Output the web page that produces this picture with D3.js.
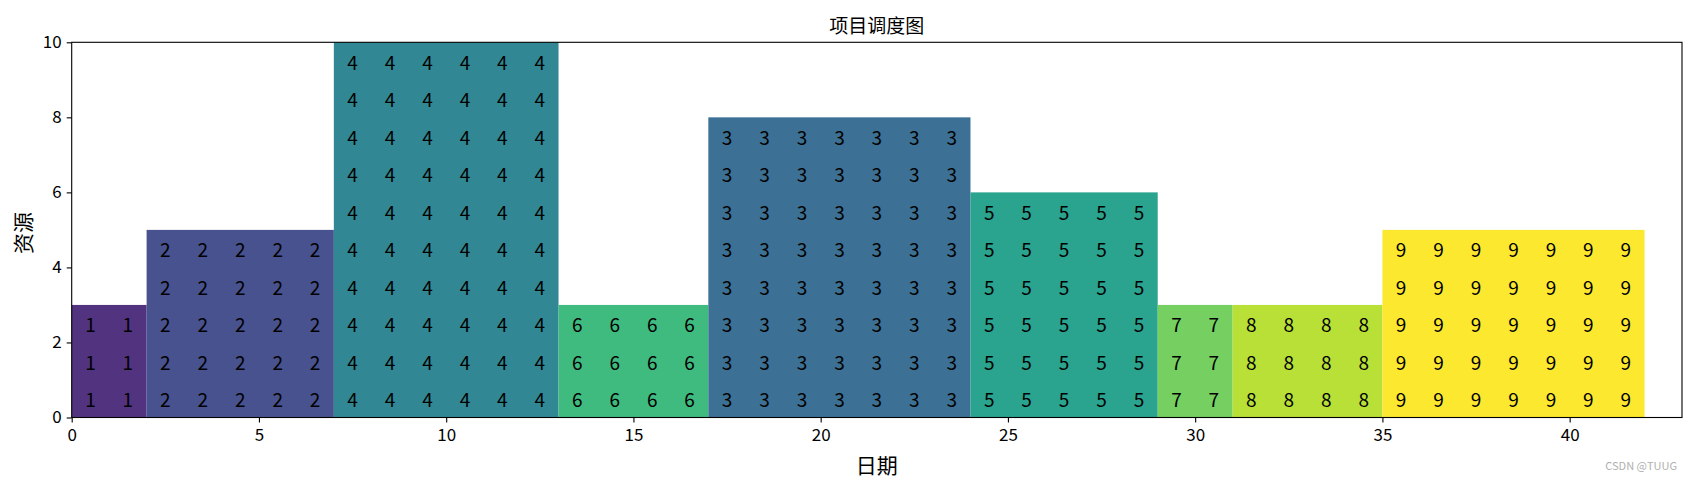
<!DOCTYPE html>
<html>
<head>
<meta charset="utf-8">
<script src="https://cdn.jsdelivr.net/npm/d3@7"></script>
<style>
  html, body { margin: 0; padding: 0; background: #fff; }
  svg { display: block; }
  text { font-family: "Noto Sans CJK SC", "Noto Sans", sans-serif; }
</style>
</head>
<body>
<svg id="chart" width="1701" height="483"></svg>
<script>
// ---- data ----
const tasks     = [1, 2, 4, 6, 3, 5, 7, 8, 9];
const starts    = [0, 2, 7, 13, 17, 24, 29, 31, 35];
const durations = [2, 5, 6, 4, 7, 5, 2, 4, 7];
const resources = [3, 5, 10, 3, 8, 6, 3, 3, 5];
const xTicks    = [0, 5, 10, 15, 20, 25, 30, 35, 40];
const yTicks    = [0, 2, 4, 6, 8, 10];
const xDomain   = [0, 43];
const yDomain   = [0, 10];
const title     = "项目调度图";
const xLabel    = "日期";
const yLabel    = "资源";
const watermark = "CSDN @TUUG";

(function () {
// ---- layout ----
const plotL = 71.7, plotR = 1682, plotT = 42.3, plotB = 417.5;

const svg = d3.select("#chart");
const x = d3.scaleLinear().domain(xDomain).range([plotL, plotR]);
const y = d3.scaleLinear().domain(yDomain).range([plotB, plotT]);
const color = i => d3.interpolateViridis(i / 9);

// bars
const g = svg.append("g");
tasks.forEach((t, k) => {
  g.append("rect")
    .attr("x", x(starts[k]))
    .attr("y", y(resources[k]))
    .attr("width", x(starts[k] + durations[k]) - x(starts[k]))
    .attr("height", y(0) - y(resources[k]))
    .attr("fill", color(t))
    .attr("fill-opacity", 0.95);
});

// cell labels
tasks.forEach((t, k) => {
  const cells = [];
  for (let d = 0; d < durations[k]; d++)
    for (let r = 0; r < resources[k]; r++)
      cells.push([starts[k] + d + 0.5, r + 0.5]);
  g.selectAll(null).data(cells).enter().append("text")
    .attr("x", c => x(c[0]))
    .attr("y", c => y(c[1]))
    .attr("text-anchor", "middle")
    .attr("dominant-baseline", "central")
    .attr("font-size", 19)
    .attr("fill", "#000")
    .text(t);
});

// axes
const xAxis = d3.axisBottom(x).tickValues(xTicks).tickSize(5).tickPadding(6).tickFormat(d3.format("d"));
const yAxis = d3.axisLeft(y).tickValues(yTicks).tickSize(5).tickPadding(5).tickFormat(d3.format("d"));
const gx = svg.append("g").attr("transform", `translate(0,${plotB})`).call(xAxis);
const gy = svg.append("g").attr("transform", `translate(${plotL},0)`).call(yAxis);
[gx, gy].forEach(a => {
  a.select(".domain").remove();
  a.selectAll(".tick line").attr("stroke", "#000").attr("stroke-width", 1.1);
  a.selectAll(".tick text").attr("font-size", 17).attr("fill", "#000")
    .style("font-family", "\"Noto Sans CJK SC\", sans-serif");
});

// frame
svg.append("rect")
  .attr("x", plotL).attr("y", plotT)
  .attr("width", plotR - plotL).attr("height", plotB - plotT)
  .attr("fill", "none").attr("stroke", "#000").attr("stroke-width", 1.1);

// title & labels
svg.append("text").attr("x", (plotL + plotR) / 2).attr("y", 24)
  .attr("text-anchor", "middle").attr("dominant-baseline", "central")
  .attr("font-size", 19).attr("fill", "#000").text(title);
svg.append("text").attr("x", (plotL + plotR) / 2).attr("y", 464)
  .attr("text-anchor", "middle").attr("dominant-baseline", "central")
  .attr("font-size", 21).attr("fill", "#000").text(xLabel);
svg.append("text").attr("transform", `translate(22,${(plotT + plotB) / 2 + 3}) rotate(-90)`)
  .attr("text-anchor", "middle").attr("dominant-baseline", "central")
  .attr("font-size", 21).attr("fill", "#000").text(yLabel);

// watermark
svg.append("text").attr("x", 1677).attr("y", 465)
  .attr("text-anchor", "end").attr("dominant-baseline", "central")
  .attr("font-size", 11).attr("fill", "#b0b0b0").text(watermark);
})();
</script>
</body>
</html>
